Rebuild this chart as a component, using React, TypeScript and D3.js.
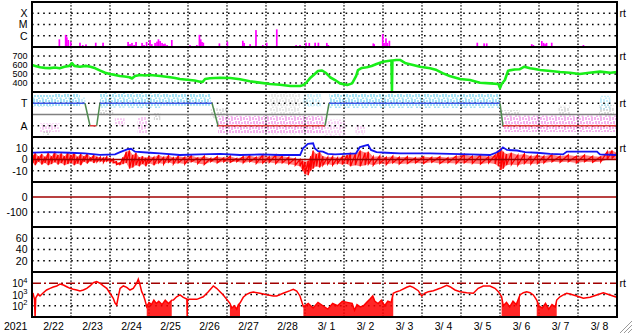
import React from 'react';
import * as d3 from 'd3';

// ---------- DATA ----------
const yearLabel = "2021";
const dayLabels = ["2/22", "2/23", "2/24", "2/25", "2/26", "2/27", "2/28", "3/ 1", "3/ 2", "3/ 3", "3/ 4", "3/ 5", "3/ 6", "3/ 7", "3/ 8"];
const xrayTicks: [number, string][] = [[1e-4, "X"], [1e-5, "M"], [1e-6, "C"]];
const swTicks = [700, 600, 500, 400];
const sectorTicks: [number, string][] = [[90, "T"], [270, "A"]];
const bTicks = [10, 0, -10];
const dstTicks = [0, -100];
const kpTicks = [60, 40, 20];
const eTicks = [4, 3, 2];

// X-ray flare peaks [hour from 2/22 00UT, flux W/m2]
const flares: [number, number][] = [
  [16.8, 4.8e-7], [20.7, 1.2e-6], [21.4, 7.3e-7], [22.3, 4.2e-7], [23.8, 3.0e-7], [29.5, 2.4e-7], [31.2, 1.5e-7], [33.2, 1.7e-7],
  [39.2, 2.4e-7], [43.7, 2.4e-7], [59.1, 2.8e-7], [60.3, 1.8e-7], [61.5, 2.3e-7], [62.8, 1.5e-7], [64, 2.8e-7], [67.7, 2.3e-7],
  [68.9, 1.5e-7], [70.5, 2.8e-7], [72.6, 4.2e-7], [73.7, 1.8e-7], [75.7, 2.3e-7], [76.9, 3.0e-7], [77.8, 4.8e-7], [78.8, 3.4e-7],
  [80, 2.3e-7], [80.9, 1.8e-7], [81.8, 2.0e-7], [83.1, 1.5e-7], [86, 4.2e-7], [97.2, 1.5e-7], [101.4, 1.5e-7], [103, 1.2e-6],
  [103.8, 4.8e-7], [104.6, 2.8e-7], [105.4, 2.4e-7], [115.3, 2.1e-7], [120.2, 3.0e-7], [129.7, 3.6e-7], [130.5, 2.3e-7],
  [134.2, 1.8e-7], [137.8, 3.2e-6], [142, 1.5e-7], [144.4, 2.4e-7], [150.6, 3.7e-6], [155.1, 1.2e-7], [162.5, 1.5e-7],
  [164.9, 1.5e-7], [168.6, 2.4e-7], [170.6, 2.3e-7], [174.2, 2.4e-7], [176.2, 2.4e-7], [181.4, 2.3e-7], [182.3, 1.5e-7],
  [210, 2.1e-7], [210.5, 1.8e-7], [215.8, 1.4e-6], [216.6, 2.3e-7], [217.8, 5.9e-7], [218.6, 2.3e-7], [219.9, 3.6e-7],
  [274, 2.4e-7], [278.2, 2.1e-7], [279.8, 2.1e-7], [307.5, 1.8e-7], [308.5, 1.5e-7], [313.7, 3.4e-7], [314.8, 2.3e-7],
  [315.7, 1.8e-7], [316.6, 2.3e-7], [319.8, 2.4e-7], [323.3, 1.2e-7], [339.3, 1.5e-7],
];

// Solar wind speed [hour, km/s]
const windSpeed: [number, number][] = [
  [0, 600], [2, 590], [5, 575], [8, 568], [11, 565], [14, 572], [17, 563], [20, 581], [23, 590], [24.6, 620], [26, 590],
  [29.5, 581], [33, 590], [36, 581], [39, 563], [42, 537], [45, 514], [48, 500], [51, 490], [54, 478], [57, 472], [60, 464],
  [61.5, 450], [63.4, 478], [66.5, 489], [69.5, 483], [72.6, 489], [79, 478], [85, 464], [88, 456], [91, 444], [97, 433],
  [100, 428], [103.4, 415], [105, 411], [106.5, 444], [109.5, 452], [115.7, 459], [122, 456], [128, 441], [134, 419],
  [140, 404], [146.5, 389], [152.6, 381], [159, 367], [165, 367], [167, 378], [168.6, 400], [171, 452], [174, 500],
  [176, 533], [178.5, 539], [181, 511], [183.4, 464], [186.5, 433], [189.5, 396], [194, 378], [197, 396], [199.5, 478],
  [200.6, 544], [203, 567], [206, 575], [209, 589], [212, 611], [216, 637], [220, 648], [221.2, 650], [221.5, 300],
  [221.8, 650], [224, 656], [226.5, 656], [230, 619], [234.5, 600], [238.8, 581], [245, 563], [249, 544], [253, 507],
  [257, 478], [263.4, 444], [269.5, 433], [275.7, 403], [282, 396], [287, 389], [288, 344], [289, 389], [291, 433],
  [293, 537], [297, 550], [300, 552], [303, 581], [306.5, 563], [309.5, 556], [312.6, 544], [319, 533], [325, 522],
  [331, 514], [337, 500], [343, 514], [349.5, 526], [356, 514], [360, 522],
];

// IMF sector scatter [h0, h1, lo, hi, density]
const cyanScatter: number[][] = [
  [0.6, 14, 24, 120, 1], [14, 29.5, 16, 112, 1], [29.5, 33, 40, 100, 0.6], [41.8, 60, 8, 125, 1],
  [60, 79, 10, 128, 1], [79, 110, 16, 110, 1], [167, 178, 16, 120, 0.55], [183, 230, 16, 128, 1],
  [230, 288, 16, 128, 1], [349.5, 356, 30, 140, 0.6],
];
const pinkScatter: number[][] = [
  [5, 17, 250, 320, 0.6], [51, 57, 210, 270, 0.7], [65, 71, 200, 330, 0.7], [114.5, 180, 190, 330, 1],
  [180, 193, 220, 350, 0.55], [199, 205, 260, 340, 0.55], [290, 360, 180, 320, 1],
];
const greyScatter: number[][] = [
  [7, 11, 310, 345, 0.8], [42, 50, 145, 185, 0.7], [75, 79, 170, 225, 0.7], [110, 121, 130, 210, 0.6],
  [146, 165, 10, 340, 0.4], [288, 300, 145, 275, 0.65], [324, 331, 110, 250, 0.6], [349, 358, 105, 210, 0.65],
];
// Sector polarity [hour, level] (T=90, A=270)
const sector: [number, number][] = [
  [0, 90], [32.6, 90], [35.7, 270], [39.8, 270], [41.8, 90], [110.8, 90], [114.5, 270], [180.3, 270], [182.8, 90],
  [288, 90], [289.8, 270], [360, 270],
];

// IMF |B| [hour, nT]
const bt: [number, number][] = [
  [0.6, 6.2], [11, 6.5], [23.4, 6], [32.6, 5.5], [41.8, 4.2], [51.1, 4.5], [54.2, 6.5], [58.5, 9], [60.9, 9.5], [63.4, 7],
  [72.6, 6], [78.8, 5.5], [91, 4], [103.4, 4.5], [115.7, 5], [128, 4], [140.3, 4.5], [152.6, 4], [165, 4], [166.8, 10],
  [169.8, 14], [173, 14.4], [174, 10], [176, 7.5], [179, 7], [182, 5], [186.5, 4.5], [193, 5], [199.4, 5.5], [201.8, 11],
  [205.5, 12.5], [206.8, 13], [208.6, 8.5], [212, 6.5], [218, 6], [226.5, 5.5], [245, 5.5], [257.2, 5], [269.5, 4.5],
  [281.8, 4], [285.5, 6], [288, 8], [289.8, 10.8], [292.3, 8.5], [298.5, 8], [303.4, 6.5], [310.8, 6], [318.8, 5],
  [326.8, 4.5], [329.2, 7], [347.7, 7], [349.5, 4.5], [360, 4],
];
// IMF Bz envelope [hour, max, min] nT
const bz: [number, number, number][] = [
  [0.6, 4, -3], [2, 6, -5], [4, 3, -2], [6, 5, -4.5], [8, 2.5, -3], [10, 6, -5], [12, 3, -4], [14, 7, -2.5], [16, 4, -4.5],
  [18, 5.5, -3], [20, 3, -5], [22, 6.5, -4], [24, 4, -3], [26, 6, -5], [28, 2.5, -3.5], [30, 5, -5], [32, 3, -2],
  [34, 5.5, -3.5], [36, 2, -1.5], [38, 4, -3], [40, 2.5, -2], [42, 2, -1.5], [44, 1.5, -2.5], [46, 2.5, -1.5], [48, 1, -2],
  [50, 0.5, -3], [52, -2, -4.5], [54, -3, -5], [56, 2, -4], [58, 7, -3], [60, 8, -8], [62, 4, -7], [64, 6, -5], [66, 2, -6],
  [68, 3, -4], [70, 1.5, -6], [72, 3, -3], [75, 2, -5], [78, 4, -3], [81, 2, -4], [84, 3.5, -2.5], [87, 1.5, -4], [90, 3, -3],
  [94, 2, -4], [98, 3.5, -2], [102, 1.5, -3.5], [106, 3, -4.5], [110, 1, -2], [114, 2.5, -3], [118, 1.5, -2], [122, 3, -2.5],
  [126, 1, -2], [130, 2.5, -3], [134, 3.5, -2], [138, 2, -3.5], [142, 4, -3], [146, 2.5, -2.5], [150, 4, -3.5], [154, 3, -3],
  [158, 2, -4], [162, 1, -5], [164.9, 0, -6], [166.5, -1, -10], [168, -2, -13], [170, -1, -14], [171.5, 3, -10], [173, 8, -8],
  [175, 5, -6], [177, 7, -7], [179, 3, -5], [182, 2, -4], [185, 2.5, -5], [188, 1.5, -3.5], [191, 2.5, -4.5], [194, 4, -4],
  [196, 6, -6], [199, 5, -5], [202, 8, -6], [205, 6, -5], [207, 7, -4], [210, 2.5, -5], [214, 3, -3.5], [218, 2, -4.5],
  [222, 3, -3], [226, 2, -4], [231, 2.5, -3.5], [236, 1.5, -3], [241, 2.5, -3.5], [246, 2, -2.5], [251, 2.5, -3.5],
  [256, 1.5, -3], [261, 3, -3.5], [266, 4.5, -3], [271, 3, -3.5], [276, 4, -4], [281, 2.5, -3], [285, 4, -4], [287, 8, -6],
  [288.5, 10, -9.3], [290, 7, -8], [292, 5, -5], [295, 6, -4.5], [299, 4, -5], [303, 5, -3.5], [307, 3, -4], [311, 4, -3.5],
  [315, 3, -3], [320, 4.5, -2], [325, 3, -2.5], [330, 4, -2], [335, 3, -3], [340, 4, -2], [345, 3, -2.5], [350, 2.5, -2],
  [354, 7, 0], [357, 8, 1], [360, 6, 0],
];

// >2MeV electron flux, log10 [hour, log10 flux]
const eFlux: [number, number][] = [
  [0.6, 3.13], [1.5, 2.6], [1.9, 1.0], [2.3, 2.7], [3.7, 3.04], [4.9, 2.87], [6.8, 3.13], [9, 3.4], [11.1, 3.55], [13.1, 3.67],
  [15.2, 3.76], [17.2, 3.93], [19.3, 3.84], [21.4, 3.69], [23.4, 3.55], [25.4, 3.46], [27.5, 3.4], [29.5, 3.31], [31.6, 3.4],
  [33.7, 3.55], [35.7, 3.76], [37.7, 4.05], [39.8, 4.14], [41.8, 4.0], [43.9, 3.76], [46, 3.55], [48, 3.11], [50, 2.66],
  [51.1, 2.24], [52.1, 2.07], [53.1, 2.8], [54.2, 3.55], [56.2, 3.76], [58.3, 3.64], [60.3, 3.4], [62.3, 3.55], [64.4, 4.0],
  [65.4, 4.35], [66.5, 3.84], [67.5, 3.25], [68.5, 2.96], [69.5, 2.51], [70.6, 1.92],
  [72, 2.3], [73.5, 2.1], [75, 2.5], [76.5, 2.2], [78, 2.4], [80, 2.1], [82, 2.5], [84, 2.2], [86, 2.5],
  [87, 2.51], [89, 2.8], [91.1, 2.96], [93.1, 2.75], [95.3, 2.6], [95.5, 1.0], [95.7, 2.6], [97.2, 2.57], [101.4, 2.57],
  [105.4, 2.8], [108.5, 3.25], [111.6, 3.76], [113.6, 3.55], [115.7, 3.25], [117.7, 2.96], [119.8, 2.57], [121.8, 2.22],
  [123, 1.8], [124.5, 2.0], [126, 1.7], [127, 2.1], [128, 2.24], [130, 2.75], [132.1, 3.02], [134.2, 3.16], [136.2, 3.22],
  [140.3, 3.11], [144.4, 2.98], [148.5, 2.87], [150.6, 2.87], [154.6, 3.11], [158.8, 3.34], [160.8, 3.46], [162.9, 3.31],
  [164.9, 2.87], [167, 1.92], [170, 2.2], [173, 1.8], [176, 2.3], [179, 2.0], [182, 1.7], [185, 2.2], [188, 2.0], [191, 2.4],
  [194, 2.3], [197, 2.2], [198.5, 1.6], [200, 2.1], [202, 1.9], [204, 2.0], [206, 2.3], [208, 2.6], [209.7, 2.87], [211, 2.4],
  [213, 2.2], [215, 2.5], [217, 2.0], [219, 2.4], [221, 2.3], [222.3, 3.11], [224.4, 3.25], [226.5, 3.34], [230.6, 3.64],
  [232.6, 3.76], [234.6, 3.64], [237.7, 3.34], [239.8, 2.87], [241.8, 3.11], [243.9, 3.25], [247, 3.34], [251.1, 3.55],
  [255.2, 3.82], [257.2, 3.69], [260.3, 3.4], [263.4, 3.25], [267.5, 3.16], [271.6, 3.11], [274.6, 3.55], [277.7, 3.76],
  [281.8, 3.76], [284.9, 3.55], [287, 3.25], [289, 2.8], [290, 2.0], [292, 2.3], [294, 1.9], [296, 2.4], [298, 2.1],
  [300.3, 2.96], [302.4, 3.16], [304.4, 3.25], [306.5, 3.16], [308.5, 2.96], [310.6, 2.51], [312, 2.0], [314, 1.8],
  [316, 2.2], [318, 1.7], [320, 2.1], [322, 1.9], [322.9, 2.51], [324.9, 2.8], [327, 2.96], [329, 3.11], [331.1, 3.04],
  [335.2, 2.87], [339.3, 2.66], [343.4, 2.75], [347.5, 2.96], [351.6, 3.16], [355.7, 2.96], [359.8, 2.75],
];
// intervals where the flux drops below the plotting floor (filled to bottom)
const eDropouts: [number, number][] = [[70.6, 86], [121.8, 128], [167, 222.3], [289, 300.3], [310.6, 322.9]];

// ---------- CHART ----------
const FONT = "'Liberation Sans', Arial, Helvetica, sans-serif";
const L = 32, R = 617;
const panelEdges = [2, 47, 92, 137, 182, 227, 272, 317];

function Speckle({ id, color }: { id: string; color: string }) {
  return (
    <pattern id={id} patternUnits="userSpaceOnUse" width={9} height={9}>
      <rect x={0} y={0} width={2} height={3} fill={color} />
      <rect x={3} y={1} width={2} height={2} fill={color} />
      <rect x={6} y={0} width={2} height={4} fill={color} />
      <rect x={1} y={4} width={2} height={3} fill={color} />
      <rect x={4} y={4} width={2} height={3} fill={color} />
      <rect x={7} y={5} width={2} height={2} fill={color} />
      <rect x={2} y={7.5} width={2} height={1.5} fill={color} />
      <rect x={5.5} y={7.5} width={2} height={1.5} fill={color} />
    </pattern>
  );
}

export default function App() {
  const x = d3.scaleLinear().domain([0, 360]).range([L, R]);
  const yX = d3.scaleLog().domain([1e-7, 1e-3]).range([47, 2]);
  const ySW = d3.scaleLinear().domain([300, 800]).range([92, 47]);
  const ySec = d3.scaleLinear().domain([0, 360]).range([92, 137]);
  const yB = d3.scaleLinear().domain([-20, 20]).range([182, 137]);
  const yDst = d3.scaleLinear().domain([-200, 100]).range([227, 182]);
  const yKp = d3.scaleLinear().domain([0, 80]).range([272, 227]);
  const yE = d3.scaleLinear().domain([1, 5]).range([317, 272]);

  const swPath = d3.line<[number, number]>().x(d => x(d[0])).y(d => ySW(d[1]))(windSpeed) || '';
  const btPath = d3.line<[number, number]>().x(d => x(d[0])).y(d => yB(d[1]))(bt) || '';
  const bzArea = d3.area<[number, number, number]>().x(d => x(d[0])).y0(d => yB(d[2])).y1(d => yB(d[1]))(bz) || '';
  const bzZig = d3.line<[number, number]>().x(d => x(d[0])).y(d => yB(d[1]))(
    bz.flatMap(d => [[d[0], d[1]], [d[0], d[2]]] as [number, number][])) || '';
  const ePath = d3.line<[number, number]>().x(d => x(d[0])).y(d => yE(d[1]))(eFlux) || '';
  const eArea = d3.area<[number, number]>().x(d => x(d[0])).y0(yE(1)).y1(d => yE(d[1]));
  const dropPaths = eDropouts.map(([a, b]) => eArea(eFlux.filter(d => d[0] >= a && d[0] <= b)) || '');

  const dayTicks = d3.range(1, 15).map(i => i * 24);

  const hDotted = (y: number, key: string) => (
    <line key={key} x1={L} x2={R} y1={y} y2={y} stroke="#000" strokeWidth={1.4} strokeDasharray="1.6,4" />
  );
  const label = (y: number, t: string, key: string, fs = 10.5) => (
    <text key={key} x={27.5} y={y + fs * 0.36} textAnchor="end" fontSize={fs} fontFamily={FONT}>{t}</text>
  );

  const scatter = (arr: number[][], pat: string, k: string) =>
    arr.map((s, i) => (
      <rect key={k + i} x={x(s[0])} width={x(s[1]) - x(s[0])} y={ySec(s[2])} height={ySec(s[3]) - ySec(s[2])}
        fill={`url(#${pat})`} opacity={s[4]} />
    ));

  const sectorSegs = sector.slice(0, -1).map((p, i) => {
    const q = sector[i + 1];
    const col = p[1] !== q[1] ? '#4e8a4e' : (p[1] === 90 ? '#3a56e8' : '#e03a3a');
    return <line key={'sec' + i} x1={x(p[0])} x2={x(q[0])} y1={ySec(p[1])} y2={ySec(q[1])} stroke={col} strokeWidth={1.5} />;
  });

  return (
    <svg width={633} height={334} style={{ position: 'absolute', left: 0, top: 0, display: 'block', background: '#fff' }}
      fontFamily={FONT}>
      <defs>
        <Speckle id="spC" color="#a4e2f6" />
        <Speckle id="spP" color="#f4b2ee" />
        <Speckle id="spG" color="#c6c6c6" />
      </defs>
      <rect x={0} y={0} width={633} height={334} fill="#fff" />

      {/* Panel 3 scatter */}
      {scatter(greyScatter, 'spG', 'g')}
      {scatter(cyanScatter, 'spC', 'c')}
      {scatter(pinkScatter, 'spP', 'p')}

      {/* horizontal dotted grids */}
      {xrayTicks.map(([v], i) => hDotted(yX(v), 'gx' + i))}
      {swTicks.map((v, i) => hDotted(ySW(v), 'gs' + i))}
      {sectorTicks.map(([v], i) => hDotted(ySec(v), 'gt' + i))}
      {[10, -10].map((v, i) => hDotted(yB(v), 'gb' + i))}
      {[-100].map((v, i) => hDotted(yDst(v), 'gd' + i))}
      {kpTicks.map((v, i) => hDotted(yKp(v), 'gk' + i))}
      {[3, 2].map((v, i) => hDotted(yE(v), 'ge' + i))}

      {/* vertical day grid */}
      {dayTicks.map(h => (
        <line key={'v' + h} x1={x(h)} x2={x(h)} y1={2} y2={317} stroke="#000" strokeWidth={1.4} strokeDasharray="1.4,1.8" />
      ))}

      {/* Panel 1: X-ray flares */}
      {flares.map(([h, f], i) => (
        <rect key={'f' + i} x={x(h) - 0.8} width={1.7} y={yX(f)} height={47 - yX(f)} fill="#ff00ff" />
      ))}

      {/* Panel 2: solar wind speed */}
      <path d={swPath} fill="none" stroke="#18ee18" strokeWidth={2.6} strokeLinejoin="round" />

      {/* Panel 3: sector */}
      <line x1={L} x2={R} y1={ySec(180)} y2={ySec(180)} stroke="#808080" strokeWidth={1.6} />
      {sectorSegs}

      {/* Panel 4: IMF */}
      <path d={bzArea} fill="#ff1010" opacity={0.55} />
      <path d={bzZig} fill="none" stroke="#ff0000" strokeWidth={1.3} />
      <line x1={L} x2={R} y1={yB(0)} y2={yB(0)} stroke="#a00000" strokeWidth={1.3} />
      <path d={btPath} fill="none" stroke="#1414f0" strokeWidth={1.8} />

      {/* Panel 5: Dst zero */}
      <line x1={L} x2={R} y1={yDst(0)} y2={yDst(0)} stroke="#a00000" strokeWidth={1.5} />

      {/* Panel 7: electrons */}
      <line x1={L} x2={R} y1={yE(4)} y2={yE(4)} stroke="#a00000" strokeWidth={1.4} strokeDasharray="9,3,2,3" />
      {dropPaths.map((d, i) => <path key={'dp' + i} d={d} fill="#ff0000" opacity={0.85} />)}
      <path d={ePath} fill="none" stroke="#ff0000" strokeWidth={1.5} />

      {/* panel borders */}
      {panelEdges.map(y => <line key={'b' + y} x1={L - 1} x2={R + 1} y1={y} y2={y} stroke="#000" strokeWidth={2} />)}
      <line x1={L} x2={L} y1={1} y2={318} stroke="#000" strokeWidth={2} />
      <line x1={R} x2={R} y1={1} y2={318} stroke="#000" strokeWidth={2} />

      {/* left labels */}
      {xrayTicks.map(([v, t], i) => label(yX(v), t, 'lx' + i))}
      {swTicks.map((v, i) => label(ySW(v), String(v), 'ls' + i, 9))}
      {sectorTicks.map(([v, t], i) => label(ySec(v), t, 'lt' + i))}
      {bTicks.map((v, i) => label(yB(v), String(v), 'lb' + i))}
      {dstTicks.map((v, i) => label(yDst(v), String(v), 'ld' + i))}
      {kpTicks.map((v, i) => label(yKp(v), String(v), 'lk' + i))}
      {eTicks.map((v, i) => (
        <text key={'le' + i} x={27.5} y={yE(v) + 4} textAnchor="end" fontSize={10} fontFamily={FONT}>
          10<tspan dy={-4.5} fontSize={7.5}>{v}</tspan>
        </text>
      ))}

      {/* right labels */}
      {[yX(1e-4), ySW(700), ySec(90), yB(10), yE(4)].map((y, i) => (
        <text key={'rt' + i} x={619.5} y={y + 4} fontSize={10.5} fontFamily={FONT}>rt</text>
      ))}

      {/* date axis */}
      <text x={4} y={330} fontSize={10.5} fontFamily={FONT}>{yearLabel}</text>
      {dayLabels.map((t, i) => (
        <text key={'d' + i} x={x(i * 24 + 12) + 2} y={330} textAnchor="middle" fontSize={10.5} fontFamily={FONT}
          style={{ whiteSpace: 'pre' }}>{t}</text>
      ))}

      {/* resize grip */}
      {[0, 4, 8].map(o => (
        <g key={'gr' + o}>
          <line x1={632} y1={321 + o} x2={620 + o} y2={333} stroke="#9a9a9a" strokeWidth={1} />
          <line x1={632} y1={322 + o} x2={621 + o} y2={333} stroke="#fff" strokeWidth={1} />
        </g>
      ))}
    </svg>
  );
}
